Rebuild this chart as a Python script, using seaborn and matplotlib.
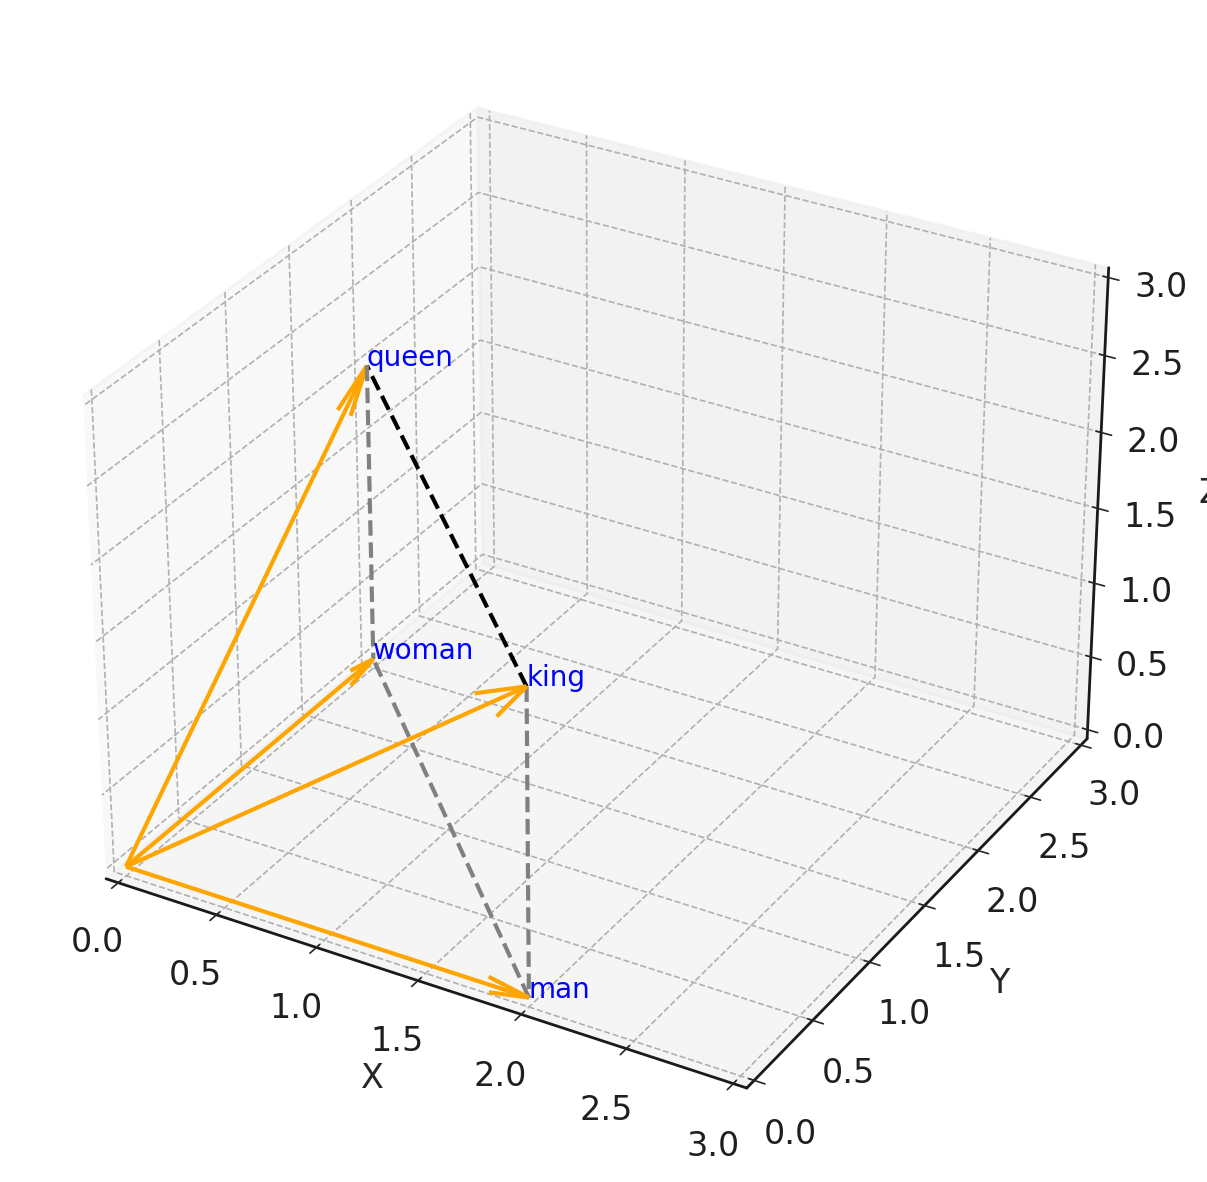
import matplotlib
matplotlib.use('Agg')
import matplotlib.pyplot as plt
import seaborn as sns

# word vectors
words = ['king', 'queen', 'man', 'woman']
xs = [2, 0, 2, 0]
ys = [0, 2, 0, 2]
zs = [2, 2, 0, 0]

# pairs joined by dashed lines
black_pairs = [('king', 'queen')]
gray_pairs = [('man', 'woman'), ('king', 'man'), ('queen', 'woman')]

ticks = [0.0, 0.5, 1.0, 1.5, 2.0, 2.5, 3.0]

sns.set_theme(style='whitegrid', rc={'grid.linestyle': '--', 'grid.linewidth': 0.6, 'grid.color': '#b0b0b0',
                                     'xtick.major.width': 0.6, 'ytick.major.width': 0.6,
                                     'xtick.labelsize': 12, 'ytick.labelsize': 12,
                                     'text.color': '.12', 'xtick.labelcolor': '.12', 'ytick.labelcolor': '.12',
                                     'axes.linewidth': 0.8})

fig = plt.figure(figsize=(6.035, 5.91), dpi=200)
ax = fig.add_axes([0.0165, 0.0186, 0.945, 0.965], projection='3d')

idx = {w: i for i, w in enumerate(words)}

for i, w in enumerate(words):
    ax.quiver(0, 0, 0, xs[i], ys[i], zs[i], color='orange', arrow_length_ratio=0.1)
    ax.text(xs[i], ys[i], zs[i], w, color='blue', fontsize=10)

for a, b in black_pairs:
    ax.plot([xs[idx[a]], xs[idx[b]]], [ys[idx[a]], ys[idx[b]]], [zs[idx[a]], zs[idx[b]]],
            color='black', linestyle='--')
for a, b in gray_pairs:
    ax.plot([xs[idx[a]], xs[idx[b]]], [ys[idx[a]], ys[idx[b]]], [zs[idx[a]], zs[idx[b]]],
            color='gray', linestyle='--')

ax.set_xlim(0, 3, view_margin=1/48)
ax.set_ylim(0, 3, view_margin=1/48)
ax.set_zlim(0, 3, view_margin=1/48)
ax.set_xticks(ticks)
ax.set_yticks(ticks)
ax.set_zticks(ticks)
ax.set_xlabel('X')
ax.set_ylabel('Y')
ax.set_zlabel('Z')
ax.grid(True)

for axis in [ax.xaxis, ax.yaxis, ax.zaxis]:
    axis.line.set_color('.1')
    axis.line.set_linewidth(1.0)
    axis.pane.set_edgecolor('#eeeeee')

plt.savefig('out.png', dpi=200)
